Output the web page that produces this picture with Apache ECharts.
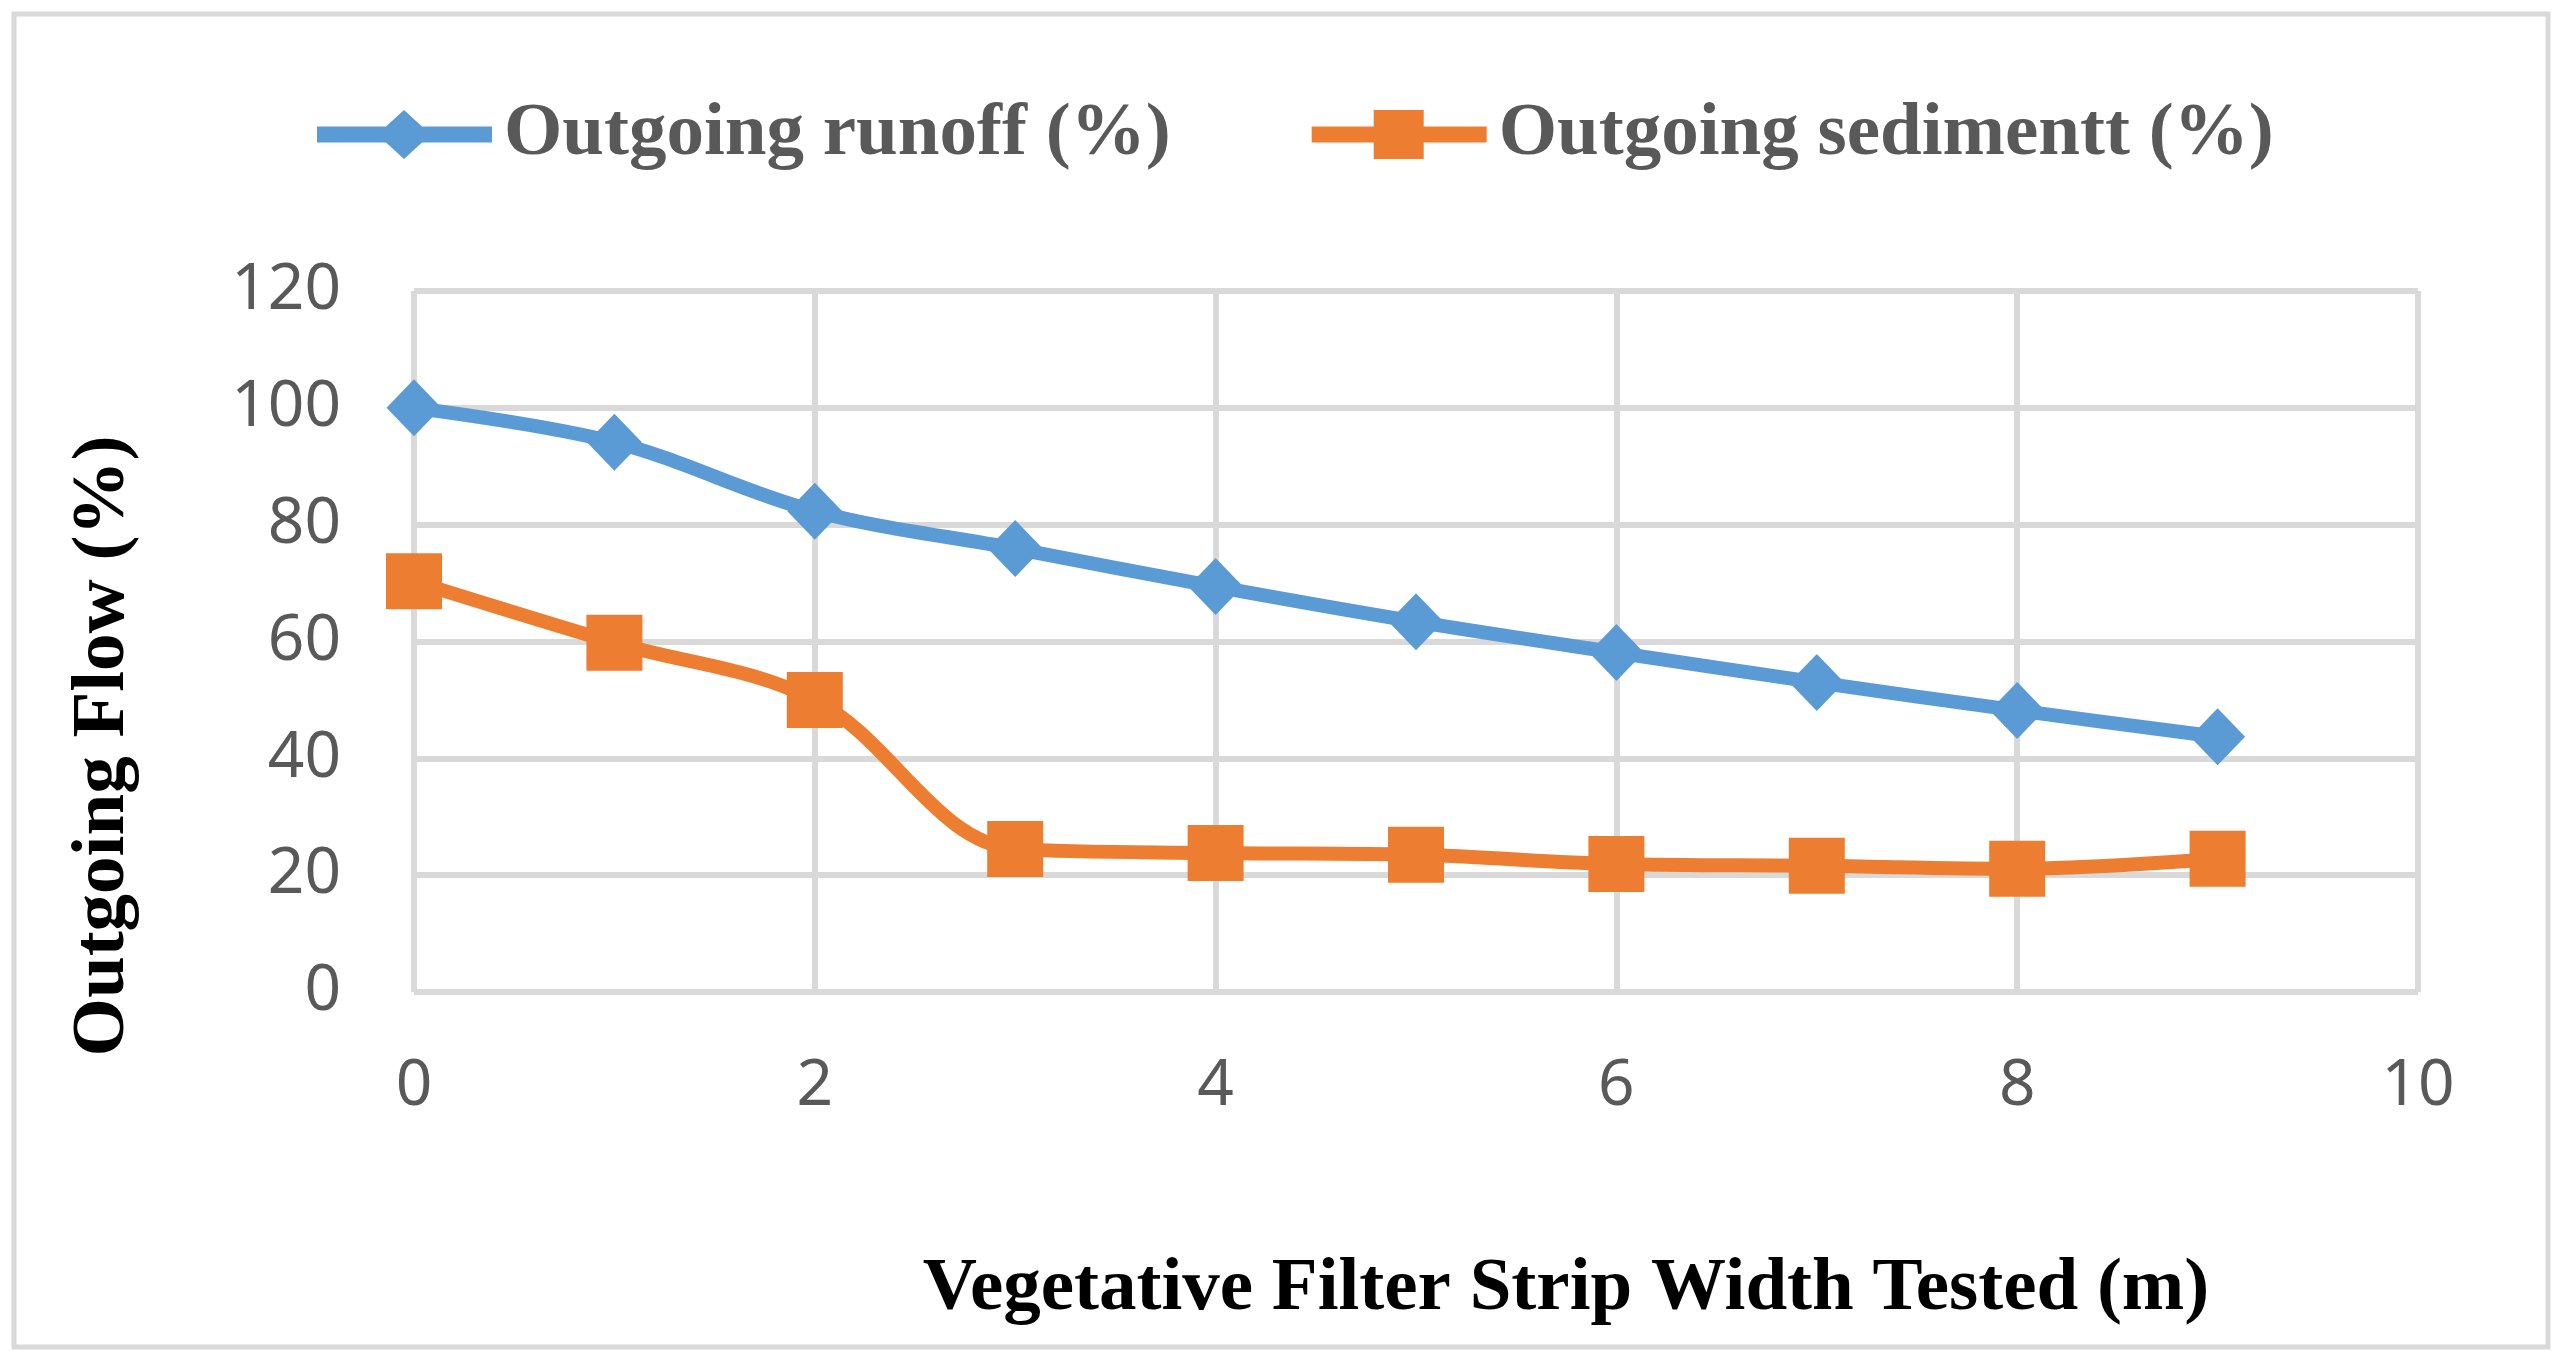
<!DOCTYPE html>
<html>
<head>
<meta charset="utf-8">
<script src="https://cdn.jsdelivr.net/npm/echarts@6/dist/echarts.min.js"></script>
<style>
html,body{margin:0;padding:0;background:#fff;}
#chart{width:2565px;height:1365px;}
</style>
</head>
<body>
<div id="chart"></div>
<script>
// Data
const widths = [0, 1, 2, 3, 4, 5, 6, 7, 8, 9];
const runoff = [100, 94.1, 82.3, 75.9, 69.4, 63.4, 58.1, 53.0, 48.2, 43.7];
const sediment = [70.3, 59.8, 50.0, 24.5, 23.8, 23.5, 21.9, 21.6, 21.1, 22.8];
const seriesNames = ['Outgoing runoff (%)', 'Outgoing sedimentt (%)'];
const xTitle = 'Vegetative Filter Strip Width Tested (m)';
const yTitle = 'Outgoing Flow (%)';

const blue = '#5b9bd5';
const orange = '#ed7d31';
const grid = '#d9d9d9';
const tickColor = '#595959';

const pair = (xs, ys) => xs.map((x, i) => [x, ys[i]]);

const chart = echarts.init(document.getElementById('chart'));
chart.setOption({
  backgroundColor: '#ffffff',
  animation: false,
  graphic: [{
    type: 'rect',
    shape: { x: 14, y: 14, width: 2534, height: 1333 },
    style: { fill: 'none', stroke: grid, lineWidth: 5 },
    z: -10
  }],
  legend: {
    left: 317,
    top: 97,
    padding: 0,
    itemWidth: 175,
    itemHeight: 49,
    itemGap: 141,
    itemStyle: { borderWidth: 0 },
    textStyle: {
      fontFamily: 'Liberation Serif',
      fontWeight: 'bold',
      fontSize: 75,
      color: tickColor,
      padding: [0, 0, 0, 7]
    },
    data: [
      { name: seriesNames[0], icon: 'path://M0 16.5 L69 16.5 L87 0 L105 16.5 L175 16.5 L175 32.5 L105 32.5 L87 49 L69 32.5 L0 32.5 Z' },
      { name: seriesNames[1], icon: 'path://M0 16.5 L62 16.5 L62 0 L112 0 L112 16.5 L175 16.5 L175 32.5 L112 32.5 L112 49 L62 49 L62 32.5 L0 32.5 Z' }
    ]
  },
  grid: { left: 414, right: 147, top: 291, bottom: 373, containLabel: false },
  xAxis: {
    type: 'value',
    min: 0, max: 10, interval: 2,
    name: xTitle,
    nameLocation: 'middle',
    nameGap: 298,
    nameTextStyle: {
      fontFamily: 'Liberation Serif', fontWeight: 'bold', fontSize: 75, color: '#000',
      verticalAlign: 'middle', padding: [0, 0, 0, 300]
    },
    axisLine: { show: false },
    axisTick: { show: false },
    axisLabel: { fontFamily: 'Noto Sans', fontSize: 64, color: tickColor, margin: 95, verticalAlign: 'middle' },
    splitLine: { show: true, lineStyle: { color: grid, width: 6 } }
  },
  yAxis: {
    type: 'value',
    min: 0, max: 120, interval: 20,
    name: yTitle,
    nameLocation: 'middle',
    nameRotate: 90,
    nameGap: 310,
    nameTextStyle: {
      fontFamily: 'Liberation Serif', fontWeight: 'bold', fontSize: 75, color: '#000',
      verticalAlign: 'middle', padding: [0, 209, 0, 0]
    },
    axisLine: { show: false },
    axisTick: { show: false },
    axisLabel: { fontFamily: 'Noto Sans', fontSize: 64, color: tickColor, margin: 73 },
    splitLine: { show: true, lineStyle: { color: grid, width: 6 } }
  },
  series: [
    {
      name: seriesNames[0],
      type: 'line',
      data: pair(widths, runoff),
      smooth: 0.35,
      symbol: 'diamond',
      symbolSize: [55, 57],
      itemStyle: { color: blue },
      lineStyle: { color: blue, width: 14 },
      z: 3
    },
    {
      name: seriesNames[1],
      type: 'line',
      data: pair(widths, sediment),
      smooth: 0.35,
      symbol: 'rect',
      symbolSize: [56, 56],
      itemStyle: { color: orange },
      lineStyle: { color: orange, width: 14 },
      z: 2
    }
  ]
});
</script>
</body>
</html>
